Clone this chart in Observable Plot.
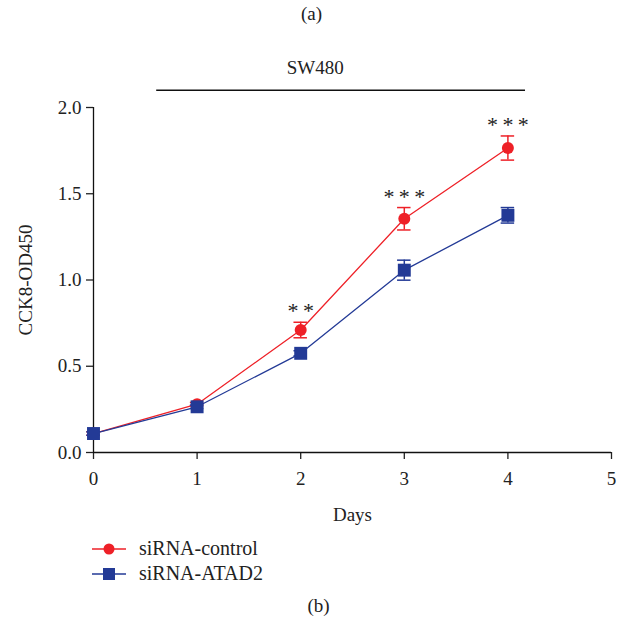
<!DOCTYPE html>
<html>
<head>
<meta charset="utf-8">
<script src="https://cdn.jsdelivr.net/npm/d3@7"></script>
<script src="https://cdn.jsdelivr.net/npm/@observablehq/plot@0.6"></script>
<style>
  body { margin:0; background:#fff; width:623px; height:623px; position:relative; overflow:hidden;
         font-family:"Liberation Serif","DejaVu Serif",serif; color:#222; }
  .cap { position:absolute; left:0; width:623px; text-align:center; font-size:19px; }
  #plot { position:absolute; left:0; top:32px; }
  .leg { position:absolute; left:90px; font-size:20px; display:flex; align-items:center; }
  .leg svg { margin-right:11px; }
</style>
</head>
<body>
<div class="cap" style="top:3px;">(a)</div>
<div id="plot"></div>
<div class="leg" id="leg1" style="top:537px;"></div>
<div class="leg" id="leg2" style="top:562px;"></div>
<div class="cap" style="top:595px; left:7px;">(b)</div>
<script>
// ---- data ----
const days = [0, 1, 2, 3, 4];
const controlMean = [0.11, 0.28, 0.71, 1.355, 1.765];
const controlErr  = [0.01, 0.01, 0.045, 0.065, 0.07];
const atad2Mean   = [0.11, 0.265, 0.575, 1.057, 1.375];
const atad2Err    = [0.01, 0.01, 0.015, 0.058, 0.045];
const stars       = ["", "", "**", "***", "***"];
const seriesNames = ["siRNA-control", "siRNA-ATAD2"];
const seriesColors = ["#ee2027", "#233a96"];
const xTicks = [0, 1, 2, 3, 4, 5];
const yTicks = [0, 0.5, 1.0, 1.5, 2.0];
const panelTitle = "SW480";
const titleSpan = [0.61, 4.17];   // days covered by the title bar
const titleBarY = 2.10;
const titleTextY = 2.23;

const control = days.map((d, i) => ({day: d, mean: controlMean[i], err: controlErr[i], star: stars[i]}));
const atad2 = days.map((d, i) => ({day: d, mean: atad2Mean[i], err: atad2Err[i]}));
const capHalf = 0.065;
const font = "Liberation Serif";

function seriesMarks(rows, color, symbol, r) {
  return [
    Plot.line(rows, {x: "day", y: "mean", stroke: color, strokeWidth: 1.3}),
    Plot.ruleX(rows, {x: "day", y1: d => d.mean - d.err, y2: d => d.mean + d.err, stroke: color, strokeWidth: 1.5}),
    Plot.ruleY(rows, {y: d => d.mean - d.err, x1: d => d.day - capHalf, x2: d => d.day + capHalf, stroke: color, strokeWidth: 1.5}),
    Plot.ruleY(rows, {y: d => d.mean + d.err, x1: d => d.day - capHalf, x2: d => d.day + capHalf, stroke: color, strokeWidth: 1.5}),
    Plot.dot(rows, {x: "day", y: "mean", fill: color, stroke: "none", symbol, r})
  ];
}

const chart = Plot.plot({
  width: 623,
  height: 500,
  marginLeft: 93,
  marginRight: 12,
  marginTop: 75,
  marginBottom: 80,
  style: {fontFamily: font, fontSize: "19px", color: "#222", background: "transparent", overflow: "visible"},
  x: {domain: [0, 5]},
  y: {domain: [0, 2]},
  marks: [
    Plot.axisX({ticks: xTicks, tickSize: 7, tickPadding: 12, tickFormat: d3.format("d"),
      label: "Days", labelAnchor: "center", labelOffset: 68, labelArrow: "none", fontSize: 19, strokeWidth: 1.3}),
    Plot.axisY({ticks: yTicks, tickSize: 7, tickPadding: 5, tickFormat: d3.format(".1f"),
      label: "CCK8-OD450", labelAnchor: "center", labelOffset: 75, labelArrow: "none", fontSize: 19, strokeWidth: 1.3}),
    Plot.ruleX([0], {stroke: "#111", strokeWidth: 1.3}),
    Plot.ruleY([0], {stroke: "#111", strokeWidth: 1.3}),
    Plot.ruleY([titleBarY], {x1: titleSpan[0], x2: titleSpan[1], stroke: "#111", strokeWidth: 1.3}),
    Plot.text([panelTitle], {x: (titleSpan[0] + titleSpan[1]) / 2 - 0.25, y: titleTextY, text: d => d, fontSize: 19}),
    ...seriesMarks(control, seriesColors[0], "circle", 6),
    ...seriesMarks(atad2, seriesColors[1], "square", 7.3),
    Plot.text(control.filter(d => d.star), {x: "day", y: d => d.mean + d.err, text: d => d.star.split("").join("\u2009"),
      dy: -4, lineAnchor: "bottom", fontSize: 22, fill: "#222"})
  ]
});
document.getElementById("plot").appendChild(chart);

// legend
function legendRow(id, name, color, shape) {
  const el = document.getElementById(id);
  const sw = d3.create("svg").attr("width", 38).attr("height", 16);
  sw.append("line").attr("x1", 2).attr("x2", 36).attr("y1", 8).attr("y2", 8).attr("stroke", color).attr("stroke-width", 1.3);
  if (shape === "circle") sw.append("circle").attr("cx", 19).attr("cy", 8).attr("r", 5.5).attr("fill", color);
  else sw.append("rect").attr("x", 13).attr("y", 2).attr("width", 12).attr("height", 12).attr("fill", color);
  el.appendChild(sw.node());
  const t = document.createElement("span");
  t.textContent = name;
  el.appendChild(t);
}
legendRow("leg1", seriesNames[0], seriesColors[0], "circle");
legendRow("leg2", seriesNames[1], seriesColors[1], "square");
</script>
</body>
</html>
